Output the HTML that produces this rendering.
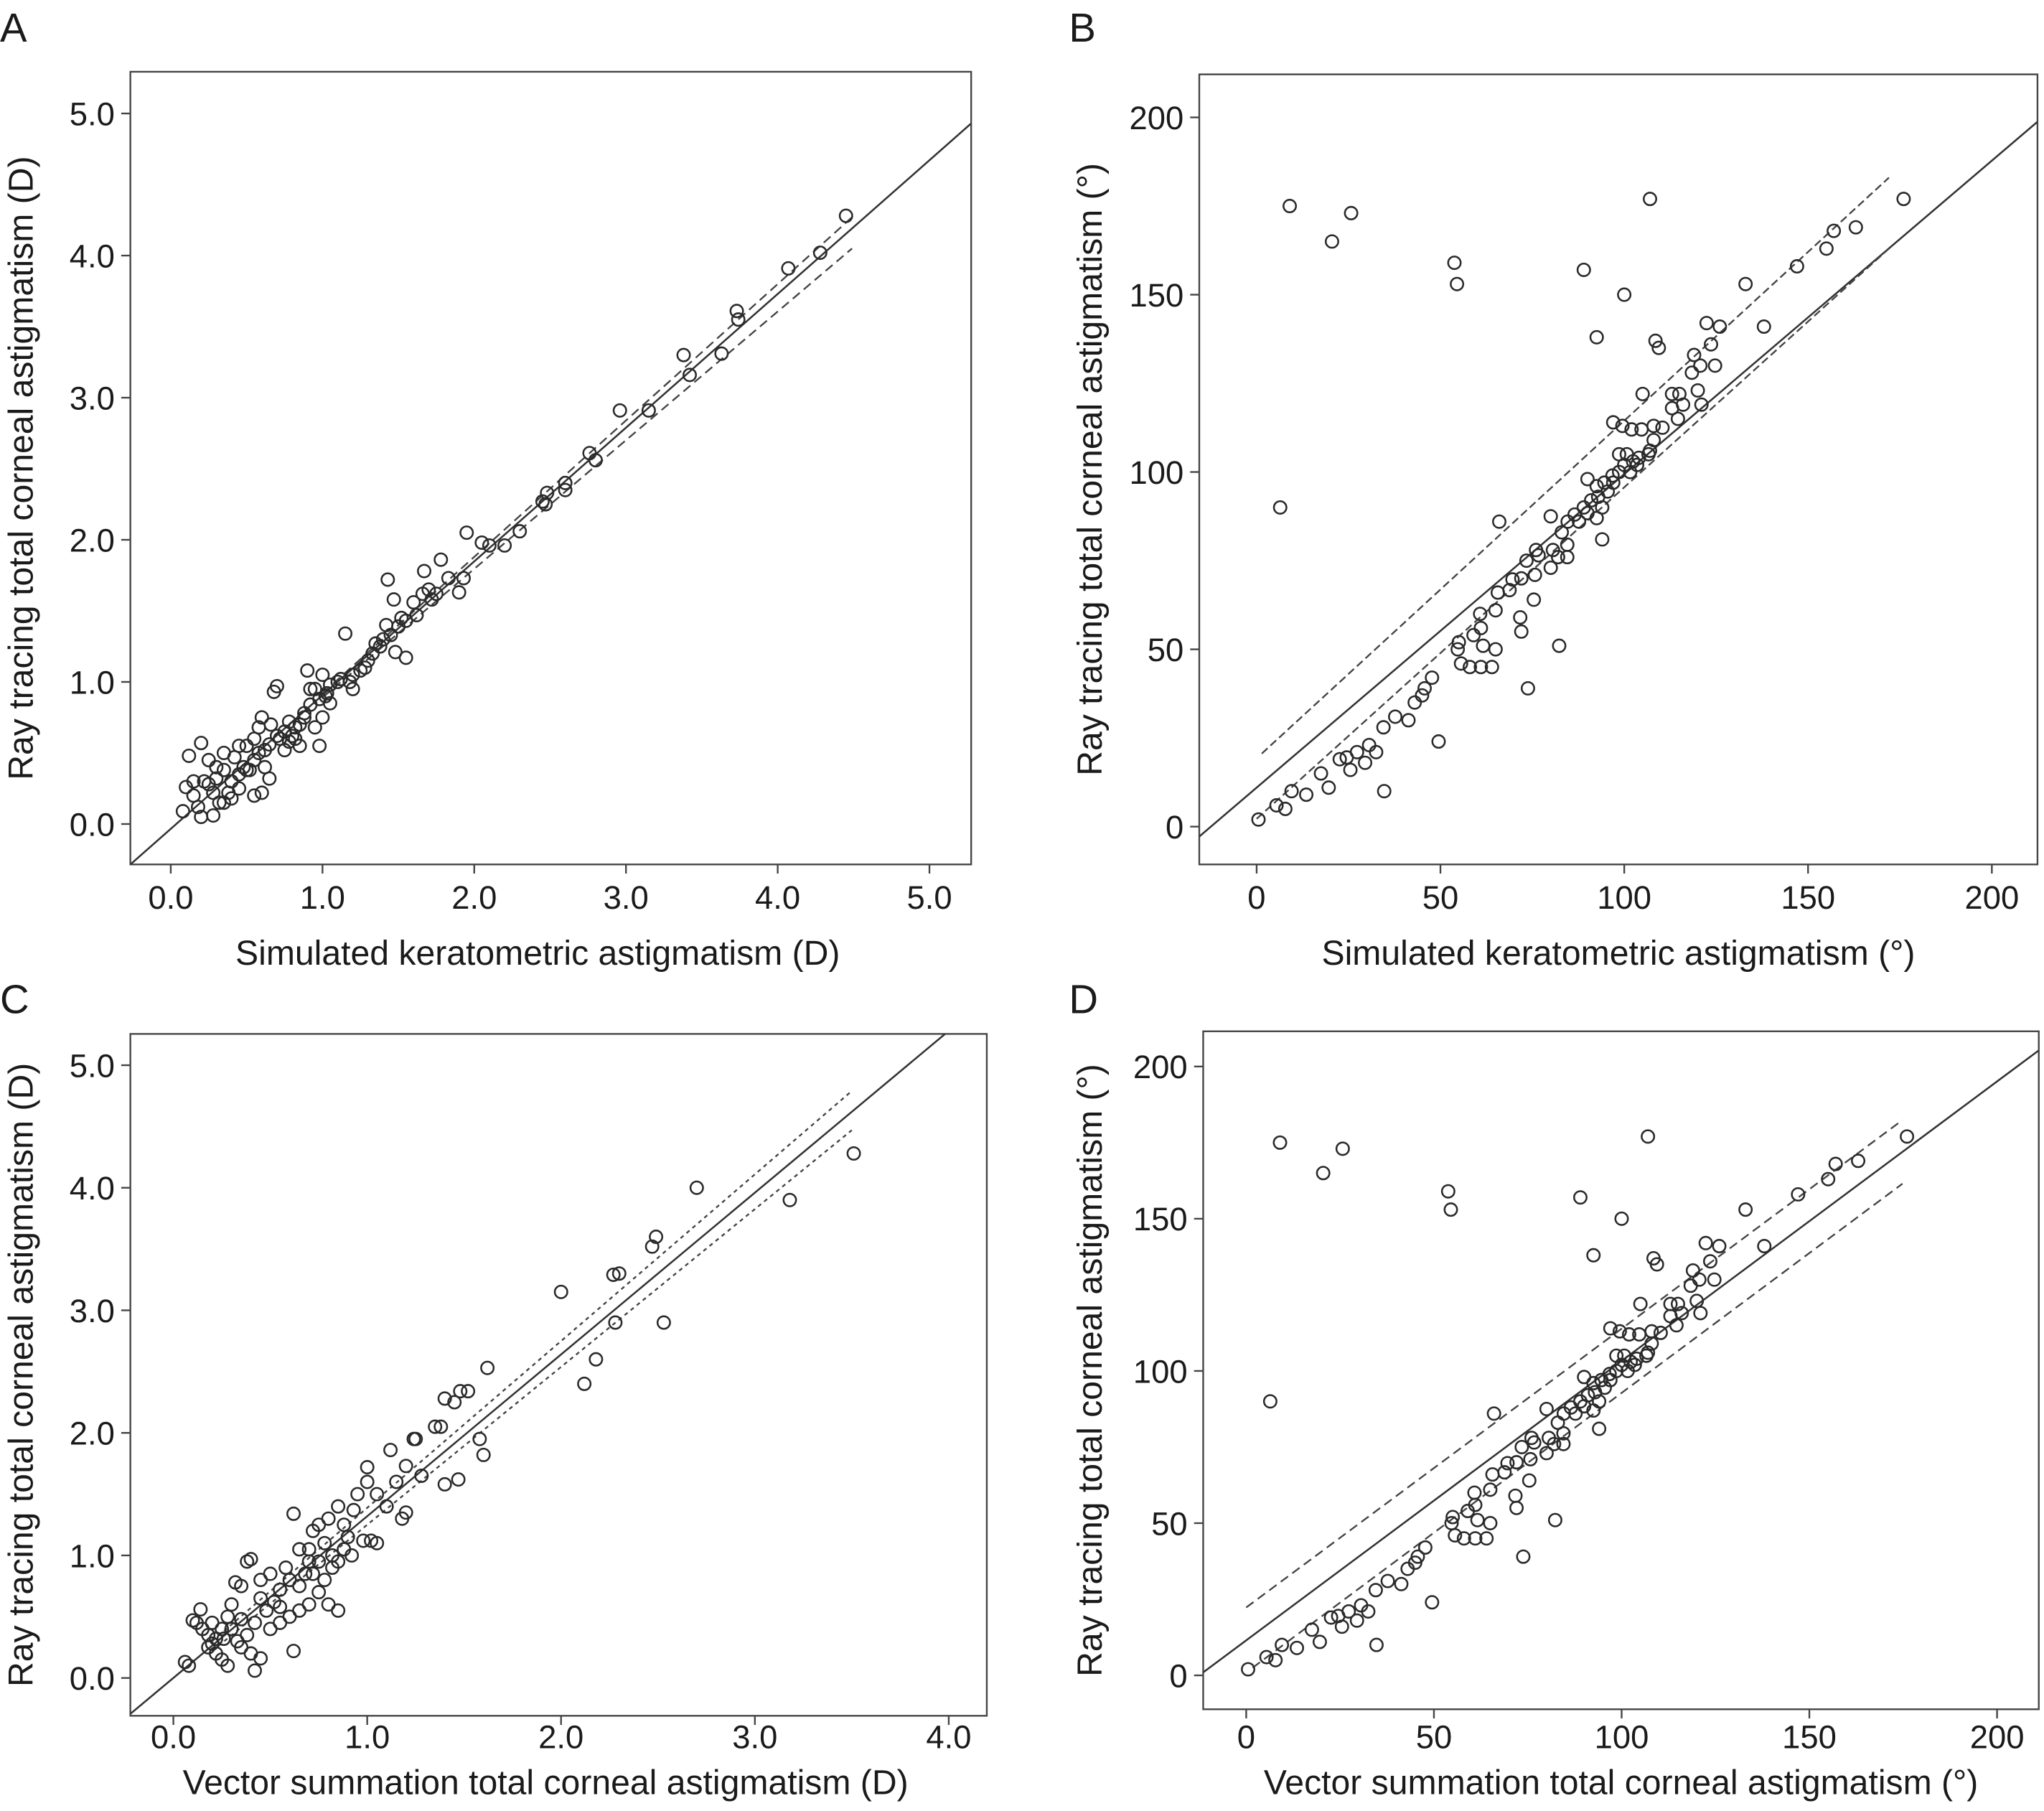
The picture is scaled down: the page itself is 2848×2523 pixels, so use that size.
<!DOCTYPE html>
<html><head><meta charset="utf-8"><style>
html,body{margin:0;padding:0;background:#fff;}
svg{display:block;}
text{font-family:"Liberation Sans",Arial,sans-serif;fill:#1a1a1a;}
</style></head><body>
<svg id="fig" xmlns="http://www.w3.org/2000/svg" width="2848" height="2523" viewBox="0 0 1568 1389"></svg>
<script>
// Panel A / C data (dioptres)
const aX=[4.45,4.28,4.07,3.73,3.74,3.63,3.42,3.38,3.15,2.96,2.80,2.76,2.60,2.60,2.48,2.45,2.47,2.30,2.20,2.10,2.05,1.95,1.93,1.90,1.83,1.78,1.75,1.72,1.70,1.67,1.66,1.60,1.62,1.55,1.50,1.47,1.43,1.42,1.40,1.35,1.33,1.30,1.25,1.20,1.15,1.10,1.05,1.03,1.00,0.98,0.95,0.92,0.90,0.88,0.85,0.82,0.80,0.78,0.75,0.72,0.70,0.68,0.65,0.62,0.60,0.58,0.55,0.52,0.50,0.48,0.45,0.42,0.40,0.38,0.35,0.32,0.30,0.28,0.25,0.22,0.20,0.18,0.15,0.12,0.10,0.08,0.55,0.60,0.65,0.98,1.20,1.55,1.48,0.85,0.75,0.45,0.40,0.35,0.15,0.20,1.00,1.05,0.95,1.12,1.18,1.28,1.38,1.45,1.52,0.70,0.66,0.55,0.50,0.45,0.58,0.62,0.78,0.82,0.88,0.92,1.02,0.25,0.30,0.35,0.28];
const aY=[4.28,4.02,3.91,3.61,3.55,3.31,3.16,3.30,2.91,2.91,2.56,2.61,2.40,2.35,2.33,2.27,2.25,2.06,1.96,1.96,1.98,2.05,1.73,1.63,1.73,1.86,1.62,1.58,1.65,1.78,1.62,1.56,1.47,1.43,1.39,1.58,1.72,1.40,1.30,1.27,1.20,1.15,1.08,1.05,1.34,1.00,0.98,0.92,1.05,0.88,0.95,0.84,1.08,0.75,0.70,0.68,0.62,0.58,0.65,0.60,0.97,0.93,0.56,0.52,0.75,0.50,0.45,0.38,0.55,0.40,0.35,0.47,0.30,0.22,0.50,0.15,0.40,0.06,0.45,0.30,0.57,0.12,0.30,0.48,0.26,0.09,0.20,0.22,0.32,0.55,0.95,1.17,1.21,0.55,0.52,0.25,0.18,0.15,0.20,0.05,0.75,0.85,0.68,1.02,1.00,1.10,1.25,1.33,1.45,0.62,0.70,0.60,0.38,0.55,0.68,0.40,0.72,0.60,0.78,0.95,0.90,0.28,0.32,0.38,0.22];
const cX=[3.51,3.18,2.70,2.49,2.47,2.30,2.27,2.53,2.28,2.00,2.18,2.12,1.62,1.52,1.48,1.40,1.45,1.35,1.38,1.58,1.60,1.25,1.24,1.12,1.20,1.00,1.00,1.05,1.15,1.10,0.95,0.93,0.85,0.80,0.75,0.65,0.62,0.72,0.78,0.82,0.88,0.90,1.20,1.18,1.40,1.47,1.28,0.98,1.02,0.70,0.68,0.60,0.55,0.50,0.45,0.40,0.38,0.35,0.32,0.30,0.28,0.25,0.22,0.20,0.18,0.15,0.12,0.10,0.08,0.06,0.14,0.20,0.25,0.28,0.35,0.40,0.42,0.45,0.50,0.55,0.60,0.65,0.70,0.75,0.80,0.85,0.78,0.82,0.72,0.62,0.52,0.48,0.42,0.38,0.33,0.26,0.22,0.18,0.30,0.35,0.45,0.55,0.65,0.75,0.85,0.92,1.05,0.58,0.70,0.88];
const cY=[4.28,3.90,4.00,3.60,3.52,3.30,3.29,2.90,2.90,3.15,2.60,2.40,2.53,2.34,2.34,2.28,2.25,2.05,2.05,1.95,1.82,1.95,1.95,1.86,1.73,1.72,1.60,1.50,1.60,1.40,1.50,1.37,1.40,1.30,1.25,1.05,1.34,1.20,1.10,1.00,1.05,1.15,1.35,1.30,1.58,1.62,1.65,1.12,1.12,0.95,0.85,0.80,0.72,0.85,0.80,0.97,0.95,0.75,0.78,0.60,0.50,0.40,0.32,0.28,0.35,0.40,0.45,0.47,0.10,0.13,0.56,0.45,0.15,0.10,0.25,0.20,0.06,0.16,0.40,0.45,0.50,0.55,0.60,0.70,0.60,0.55,0.80,0.90,0.85,0.22,0.62,0.55,0.45,0.35,0.30,0.32,0.20,0.25,0.40,0.48,0.65,0.58,0.75,0.95,0.95,1.00,1.10,0.90,1.05,1.25];
// Panel B / D data (degrees)
const dX=[9,25.7,20.5,53.8,54.5,89,107,100,92.5,108.5,109.4,6.4,133,138,147,155,157,163,176,122.4,126,119,120.7,123.6,124.7,118.4,105,113,115,120,121,116,97,99.5,108,107,113,114.6,102,104.7,66,94,80,82.3,73.8,72,71.7,75.4,65,64,61,58,55.6,54.7,55,59,61,60.8,61.6,65,65.6,68.8,69.6,72,73.4,76,76.7,75.7,80,80.6,82,84.5,84.5,83,84.6,86.5,89,87.7,90,91,92.9,92.5,94,90,92.5,94.6,96.8,98.6,100,102.4,104,106.6,100.7,98.6,97,95.5,103.5,101.6,108,110.4,0.5,5.4,7.8,9.5,13.5,17.5,19.6,22.6,24.5,25.5,27.3,29.5,30.6,32.5,34.5,34.7,37.7,41.3,43,45,45.7,47.7,49.5];
const dY=[175,173,165,159,153,157,177,150,138,137,135,90,153,141,158,163,168,169,177,142,141,133,130,136,130,128,122,122,122,123,119,119,114,113,113,106,118,115,112,112,86,81,87.5,51,39,55,59,64,50,45,45,45,46,50,52,54,56,60,51,61,66,66.7,69.7,70,75,78,76.5,71,73,78,76,76,79.5,83,86,88,90,86,88.4,92,93,87,90,98,96,97,99,100,102,103,104,105,105,105,97,94.5,102,100,109,112.5,2,6,5,10,9,15,11,19,19.5,16,21,18,23,21,28,10,31,30,35,37,39,42,24];
const bX=dX, bY=dY;

const aTicks=["0.0","1.0","2.0","3.0","4.0","5.0"];
const cTicksX=["0.0","1.0","2.0","3.0","4.0"];
const degTicks=["0","50","100","150","200"];

const NS="http://www.w3.org/2000/svg";
const svg=document.getElementById('fig');
function mk(tag,attrs,parent){const e=document.createElementNS(NS,tag);for(const k in attrs)e.setAttribute(k,attrs[k]);(parent||svg).appendChild(e);return e;}

const panels=[
 {id:'a',letter:'A',lx:0,ly:32,box:[100,55,745,663],x0:131,xs:116.4,y0:632,ys:109,xt:aTicks,yt:aTicks,tickY:697,titleY:740,ytx:25,xtitle:"Simulated keratometric astigmatism (D)",ytitle:"Ray tracing total corneal astigmatism (D)",X:aX,Y:aY,fit:[-0.034,0.941],ci:[[1.0,0.92,4.49,4.27],[1.0,0.89,4.49,4.05]],dash:"7,4"},
 {id:'b',letter:'B',lx:820,ly:32,box:[920,57,1563,663],x0:964,xs:2.82,y0:634,ys:2.72,xt:degTicks,yt:degTicks,tickY:697,titleY:740,ytx:845,xtitle:"Simulated keratometric astigmatism (°)",ytitle:"Ray tracing total corneal astigmatism (°)",X:bX,Y:bY,fit:[11,0.884],ci:[[1.4,20.6,172,183],[0,2.2,172,163]],dash:"6,3"},
 {id:'c',letter:'C',lx:0,ly:777,box:[100,793,757,1316],x0:133,xs:148.7,y0:1287,ys:94,xt:cTicksX,yt:aTicks,tickY:1341,titleY:1376,ytx:25,xtitle:"Vector summation total corneal astigmatism (D)",ytitle:"Ray tracing total corneal astigmatism (D)",X:cX,Y:cY,fit:[0,1.32],ci:[[0.2,0.30,3.5,4.79],[0.2,0.22,3.5,4.47]],dash:"3,3"},
 {id:'d',letter:'D',lx:820,ly:777,box:[923,791,1564,1311],x0:956,xs:2.88,y0:1285,ys:2.335,xt:degTicks,yt:degTicks,tickY:1341,titleY:1376,ytx:845,xtitle:"Vector summation total corneal astigmatism (°)",ytitle:"Ray tracing total corneal astigmatism (°)",X:dX,Y:dY,fit:[11.5,0.918],ci:[[0,22.3,174.8,182.4],[1.7,2.5,174.8,161.5]],dash:"7,4"}
];

panels.forEach(p=>{
 const g=mk('g',{});
 
 
 const sx=v=>p.x0+v*p.xs, sy=v=>p.y0-v*p.ys;
 const [L,T,R,B]=p.box;
 const lt=mk('text',{x:p.lx,y:p.ly,'font-size':31},g);lt.textContent=p.letter;
 
 
 const cp=mk('clipPath',{id:'clip'+p.id},g);mk('rect',{x:L,y:T,width:R-L,height:B-T},cp);
 const frame=mk('rect',{x:L,y:T,width:R-L,height:B-T,fill:'none',stroke:'#444','stroke-width':1.3},g);
 
 
 const xstep=p.id==='b'||p.id==='d'?50:1;
 p.xt.forEach((t,i)=>{const x=sx(i*xstep);
  mk('line',{x1:x,x2:x,y1:B,y2:B+7,stroke:'#444','stroke-width':1.3},g);
  const tx=mk('text',{x:x,y:p.tickY,'font-size':25,'text-anchor':'middle'},g);tx.textContent=t;
  
  });
 p.yt.forEach((t,i)=>{const y=sy(i*xstep);
  mk('line',{x1:L-7,x2:L,y1:y,y2:y,stroke:'#444','stroke-width':1.3},g);
  const ty=mk('text',{x:L-12,y:y+9,'font-size':25,'text-anchor':'end'},g);ty.textContent=t;
  
  });
 const xt=mk('text',{x:(L+R)/2+(p.id==='a'||p.id==='c'?-10:0),y:p.titleY,'font-size':26.5,'text-anchor':'middle'},g);xt.textContent=p.xtitle;
 
 
 const yc=(T+B)/2;
 const yt=mk('text',{x:p.ytx,y:yc,'font-size':26.5,'text-anchor':'middle',transform:`rotate(-90 ${p.ytx} ${yc})`},g);yt.textContent=p.ytitle;
 
 
 const inner=mk('g',{'clip-path':`url(#clip${p.id})`},g);
 const xa=(L-p.x0)/p.xs, xb=(R-p.x0)/p.xs;
 const fl=mk('line',{x1:sx(xa),y1:sy(p.fit[0]+p.fit[1]*xa),x2:sx(xb),y2:sy(p.fit[0]+p.fit[1]*xb),stroke:'#333','stroke-width':1.4},inner);
 
 
 p.ci.forEach(c=>{const cl=mk('line',{x1:sx(c[0]),y1:sy(c[1]),x2:sx(c[2]),y2:sy(c[3]),stroke:'#444','stroke-width':1.3,'stroke-dasharray':p.dash},inner);
  
  });
 p.X.forEach((v,i)=>{const c=mk('circle',{cx:sx(v),cy:sy(p.Y[i]),r:4.8,fill:'none',stroke:'#2a2a2a','stroke-width':1.4},inner);
  
  });
});
</script>
</body></html>
